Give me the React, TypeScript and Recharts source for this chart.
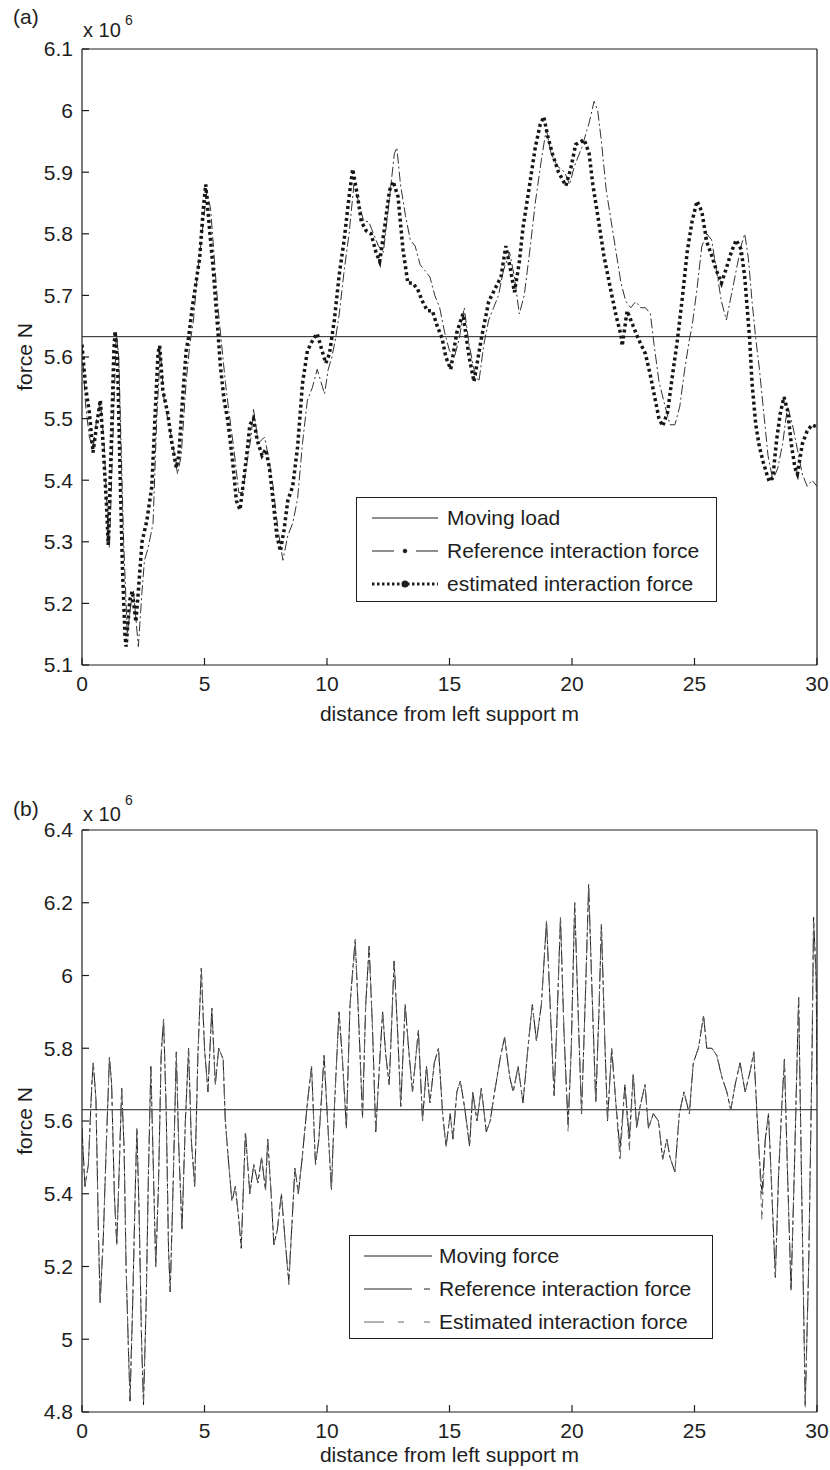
import React from "react";
import { LineChart, Line, XAxis, YAxis, Legend } from "recharts";

// values are force in 10^6 N against distance from left support (m)

// panel (a)
const distA_load = [0, 30];
const forceA_load = [5.633, 5.633];

const distA_ref = [
  0, 0.15, 0.3, 0.45, 0.6, 0.75, 0.9, 1.05, 1.12, 1.25, 1.4, 1.5, 1.7, 1.85, 2.0, 2.1, 2.3, 2.45, 2.55, 2.7,
  2.9, 3.05, 3.2, 3.35, 3.5, 3.7, 3.9, 4.05, 4.25, 4.4, 4.55, 4.7, 4.9, 5.1, 5.25, 5.4, 5.55, 5.7, 5.85, 6.0,
  6.2, 6.4, 6.55, 6.7, 6.9, 7.0, 7.2, 7.45, 7.6, 7.8, 8.0, 8.2, 8.4, 8.6, 8.8, 9.0, 9.2, 9.4, 9.6, 9.75,
  9.9, 10.05, 10.2, 10.35, 10.5, 10.7, 10.9, 11.1, 11.3, 11.5, 11.7, 11.9, 12.1, 12.3, 12.5, 12.75, 12.85, 13.0, 13.2, 13.4,
  13.6, 13.8, 14.0, 14.2, 14.4, 14.6, 14.8, 15.0, 15.2, 15.4, 15.6, 15.8, 16.0, 16.2, 16.4, 16.6, 16.8, 17.0, 17.2, 17.45,
  17.65, 17.85, 18.05, 18.3, 18.5, 18.75, 18.95, 19.15, 19.4, 19.7, 19.9, 20.1, 20.4, 20.7, 20.9, 21.05, 21.2, 21.4, 21.6, 21.8,
  22.0, 22.2, 22.4, 22.6, 22.8, 23.0, 23.2, 23.35, 23.55, 23.8, 24.0, 24.2, 24.4, 24.6, 24.8, 24.9, 25.1, 25.3, 25.5, 25.7,
  25.9, 26.1, 26.3, 26.5, 26.7, 26.9, 27.05, 27.2, 27.35, 27.5, 27.65, 27.85, 28.0, 28.2, 28.4, 28.6, 28.8, 29.0, 29.2, 29.4,
  29.6, 29.8, 30.0,
];
const forceA_ref = [
  5.62, 5.52, 5.47, 5.45, 5.5, 5.53, 5.46, 5.33, 5.29, 5.45, 5.64, 5.6, 5.3, 5.15, 5.2, 5.22, 5.13, 5.22, 5.27, 5.29,
  5.33, 5.5, 5.61, 5.53, 5.5, 5.46, 5.41, 5.44, 5.56, 5.62, 5.66, 5.73, 5.8, 5.87, 5.84, 5.76, 5.68, 5.62, 5.56, 5.51,
  5.45, 5.38, 5.38, 5.42, 5.47, 5.515, 5.46, 5.47, 5.44, 5.39, 5.32, 5.27, 5.31, 5.33, 5.37, 5.46, 5.53, 5.55, 5.58, 5.56,
  5.54, 5.58, 5.6, 5.63, 5.67, 5.74, 5.8, 5.88, 5.85, 5.82, 5.82, 5.8, 5.78, 5.77, 5.84, 5.93, 5.94, 5.88, 5.83, 5.79,
  5.78, 5.75, 5.74, 5.73, 5.7, 5.68, 5.64, 5.61, 5.6, 5.63, 5.68, 5.62, 5.58, 5.56, 5.62, 5.66, 5.68, 5.7, 5.74, 5.77,
  5.73, 5.67, 5.7, 5.78, 5.85, 5.92, 5.97, 5.93, 5.91, 5.9, 5.88, 5.91, 5.94, 5.98, 6.015, 6.0, 5.95, 5.87, 5.82, 5.77,
  5.72, 5.69, 5.68, 5.69, 5.68, 5.68, 5.67, 5.62, 5.56, 5.52, 5.49, 5.49, 5.52, 5.58, 5.63, 5.65, 5.71, 5.78, 5.8, 5.79,
  5.74, 5.69, 5.66, 5.7, 5.74, 5.78, 5.8, 5.76, 5.69, 5.63, 5.58, 5.5, 5.44, 5.4, 5.42, 5.46, 5.52, 5.49, 5.45, 5.41,
  5.39, 5.4, 5.39,
];

const distA_est = [
  0, 0.15, 0.3, 0.45, 0.6, 0.75, 0.85, 1.0, 1.07, 1.2, 1.3, 1.35, 1.45, 1.55, 1.65, 1.75, 1.8, 1.95, 2.05, 2.2,
  2.3, 2.45, 2.65, 2.85, 3.0, 3.1, 3.17, 3.3, 3.5, 3.65, 3.85, 3.95, 4.1, 4.25, 4.35, 4.5, 4.65, 4.8, 4.95, 5.05,
  5.2, 5.35, 5.55, 5.65, 5.8, 5.95, 6.15, 6.3, 6.45, 6.6, 6.75, 6.85, 7.0, 7.15, 7.35, 7.5, 7.65, 7.8, 7.95, 8.1,
  8.25, 8.4, 8.6, 8.8, 9.0, 9.2, 9.45, 9.6, 9.8, 9.95, 10.1, 10.3, 10.5, 10.7, 10.9, 11.05, 11.25, 11.4, 11.6, 11.8,
  12.0, 12.15, 12.35, 12.55, 12.7, 12.9, 13.1, 13.3, 13.5, 13.7, 13.9, 14.1, 14.3, 14.5, 14.7, 14.85, 15.05, 15.3, 15.55, 15.8,
  16.0, 16.3, 16.6, 16.85, 17.1, 17.3, 17.5, 17.65, 17.85, 18.0, 18.25, 18.5, 18.7, 18.85, 19.0, 19.2, 19.45, 19.75, 19.95, 20.15,
  20.5, 20.7, 20.85, 21.05, 21.3, 21.6, 21.8, 22.0, 22.05, 22.25, 22.5, 22.7, 23.0, 23.2, 23.4, 23.55, 23.7, 23.9, 24.1, 24.3,
  24.5, 24.7, 24.9, 25.1, 25.3, 25.5, 25.7, 25.9, 26.1, 26.3, 26.5, 26.7, 26.9, 27.05, 27.15, 27.25, 27.35, 27.5, 27.65, 27.8,
  27.95, 28.05, 28.2, 28.35, 28.5, 28.65, 28.8, 28.95, 29.1, 29.2, 29.4, 29.6, 29.8, 30.0,
];
const forceA_est = [
  5.62, 5.55, 5.51, 5.445, 5.49, 5.53, 5.465, 5.36, 5.295, 5.465, 5.61, 5.642, 5.595, 5.42, 5.26, 5.15, 5.13, 5.205, 5.22, 5.17,
  5.22, 5.3, 5.335, 5.39, 5.52, 5.605, 5.618, 5.546, 5.508, 5.465, 5.42, 5.44, 5.53, 5.61, 5.632, 5.68, 5.72, 5.76, 5.84, 5.88,
  5.81, 5.745, 5.64, 5.584, 5.53, 5.497, 5.43, 5.367, 5.352, 5.4, 5.45, 5.49, 5.5, 5.465, 5.44, 5.45, 5.42, 5.367, 5.31, 5.285,
  5.32, 5.367, 5.39, 5.454, 5.557, 5.61, 5.63, 5.638, 5.61, 5.59, 5.605, 5.66, 5.734, 5.79, 5.86, 5.905, 5.86, 5.82, 5.805, 5.8,
  5.77, 5.755, 5.81, 5.87, 5.885, 5.86, 5.775, 5.72, 5.72, 5.71, 5.69, 5.675, 5.675, 5.65, 5.63, 5.6, 5.58, 5.64, 5.67, 5.6,
  5.56, 5.63, 5.69, 5.71, 5.73, 5.78, 5.74, 5.705, 5.754, 5.81, 5.874, 5.94, 5.977, 5.99, 5.96, 5.93, 5.9, 5.878, 5.906, 5.945,
  5.953, 5.93, 5.88, 5.83, 5.765, 5.705, 5.667, 5.635, 5.618, 5.675, 5.65, 5.63, 5.605, 5.57, 5.53, 5.5, 5.488, 5.51, 5.57, 5.627,
  5.695, 5.77, 5.82, 5.853, 5.836, 5.787, 5.765, 5.74, 5.72, 5.744, 5.77, 5.79, 5.775, 5.73, 5.68, 5.63, 5.557, 5.49, 5.454, 5.43,
  5.41, 5.398, 5.405, 5.465, 5.508, 5.535, 5.513, 5.459, 5.42, 5.41, 5.459, 5.48, 5.49, 5.486,
];

// panel (b)
const distB_load = [0, 30];
const forceB_load = [5.631, 5.631];

const distB_ref = [
  0, 0.12, 0.26, 0.4, 0.46, 0.57, 0.67, 0.74, 0.87, 1.0, 1.12, 1.21, 1.32, 1.42, 1.51, 1.62, 1.72, 1.8, 1.9, 1.96,
  2.07, 2.17, 2.24, 2.33, 2.43, 2.51, 2.62, 2.71, 2.81, 2.92, 3.01, 3.12, 3.23, 3.33, 3.44, 3.53, 3.6, 3.71, 3.85, 3.94,
  4.08, 4.22, 4.35, 4.46, 4.6, 4.73, 4.87, 5.0, 5.14, 5.3, 5.44, 5.58, 5.76, 5.85, 5.99, 6.12, 6.26, 6.4, 6.5, 6.67,
  6.85, 7.01, 7.18, 7.33, 7.49, 7.58, 7.72, 7.83, 7.97, 8.14, 8.28, 8.44, 8.58, 8.69, 8.83, 8.99, 9.2, 9.37, 9.53, 9.67,
  9.88, 10.0, 10.18, 10.31, 10.49, 10.63, 10.79, 10.94, 11.15, 11.28, 11.45, 11.58, 11.72, 11.86, 11.99, 12.13, 12.27, 12.4, 12.54, 12.74,
  12.88, 13.01, 13.19, 13.33, 13.49, 13.73, 13.9, 14.06, 14.2, 14.38, 14.55, 14.72, 14.86, 15.03, 15.14, 15.3, 15.44, 15.61, 15.82, 15.95,
  16.12, 16.3, 16.5, 16.66, 16.84, 17.09, 17.25, 17.46, 17.6, 17.8, 18.0, 18.2, 18.38, 18.55, 18.75, 18.96, 19.12, 19.27, 19.4, 19.53,
  19.67, 19.84, 19.97, 20.11, 20.25, 20.39, 20.55, 20.68, 20.82, 20.97, 21.1, 21.2, 21.34, 21.45, 21.62, 21.79, 21.96, 22.16, 22.34, 22.5,
  22.64, 22.78, 22.98, 23.12, 23.32, 23.53, 23.7, 23.87, 24.0, 24.2, 24.38, 24.57, 24.79, 24.95, 25.16, 25.37, 25.5, 25.71, 25.91, 26.12,
  26.32, 26.48, 26.66, 26.86, 27.07, 27.28, 27.42, 27.55, 27.65, 27.75, 27.89, 28.02, 28.16, 28.3, 28.43, 28.57, 28.67, 28.8, 28.94, 29.07,
  29.25, 29.39, 29.52, 29.66, 29.8, 29.86, 29.97, 30.0,
];
const forceB_ref = [
  5.58, 5.42, 5.48, 5.7, 5.76, 5.66, 5.3, 5.1, 5.28, 5.55, 5.775, 5.7, 5.4, 5.26, 5.45, 5.69, 5.52, 5.2, 4.96, 4.83,
  5.1, 5.4, 5.58, 5.35, 5.0, 4.82, 5.1, 5.45, 5.75, 5.45, 5.2, 5.42, 5.78, 5.88, 5.62, 5.25, 5.13, 5.4, 5.79, 5.55,
  5.3, 5.6, 5.8, 5.55, 5.42, 5.78, 6.02, 5.8, 5.68, 5.91, 5.7, 5.8, 5.77, 5.6, 5.48, 5.38, 5.42, 5.33, 5.25, 5.57,
  5.4, 5.48, 5.43, 5.5, 5.41, 5.55, 5.4, 5.26, 5.3, 5.4, 5.28, 5.16, 5.33, 5.47, 5.4, 5.5, 5.65, 5.75, 5.48, 5.55,
  5.78, 5.63, 5.41, 5.65, 5.9, 5.77, 5.58, 5.92, 6.1, 5.9, 5.61, 5.92, 6.08, 5.85, 5.57, 5.74, 5.9, 5.78, 5.7, 6.04,
  5.85, 5.64, 5.92, 5.8, 5.68, 5.85, 5.6, 5.75, 5.65, 5.76, 5.8, 5.62, 5.53, 5.62, 5.55, 5.68, 5.71, 5.64, 5.53, 5.68,
  5.6, 5.69, 5.57, 5.6, 5.68, 5.78, 5.83, 5.72, 5.68, 5.75, 5.65, 5.8, 5.92, 5.82, 5.92, 6.15, 5.9, 5.67, 5.9, 6.16,
  5.85, 5.59, 5.8, 6.2, 5.9, 5.62, 5.95, 6.25, 5.95, 5.65, 5.9, 6.14, 5.82, 5.6, 5.8, 5.65, 5.52, 5.7, 5.55, 5.73,
  5.58, 5.64, 5.7, 5.58, 5.62, 5.6, 5.495, 5.55, 5.5, 5.46, 5.62, 5.68, 5.62, 5.76, 5.8, 5.89, 5.8, 5.8, 5.78, 5.72,
  5.68, 5.63, 5.7, 5.76, 5.68, 5.74, 5.79, 5.62, 5.5, 5.4, 5.55, 5.62, 5.4, 5.17, 5.45, 5.65, 5.77, 5.45, 5.135, 5.45,
  5.94, 5.35, 4.82, 5.2, 5.8, 6.16, 5.98, 5.7,
];

const distB_est = distB_ref;
const forceB_est = [
  5.58, 5.42, 5.48, 5.7, 5.76, 5.66, 5.28, 5.1, 5.28, 5.55, 5.775, 5.7, 5.4, 5.26, 5.45, 5.69, 5.52, 5.2, 4.96, 4.84,
  5.1, 5.4, 5.58, 5.35, 5.0, 4.83, 5.1, 5.45, 5.75, 5.45, 5.2, 5.42, 5.78, 5.88, 5.62, 5.25, 5.13, 5.4, 5.79, 5.55,
  5.3, 5.6, 5.8, 5.55, 5.42, 5.78, 6.02, 5.8, 5.68, 5.91, 5.7, 5.8, 5.77, 5.6, 5.48, 5.38, 5.42, 5.33, 5.26, 5.57,
  5.4, 5.48, 5.43, 5.5, 5.41, 5.55, 5.4, 5.26, 5.3, 5.4, 5.28, 5.15, 5.33, 5.47, 5.4, 5.5, 5.65, 5.75, 5.48, 5.55,
  5.78, 5.63, 5.41, 5.65, 5.9, 5.77, 5.58, 5.92, 6.09, 5.9, 5.61, 5.92, 6.08, 5.85, 5.57, 5.74, 5.9, 5.78, 5.7, 6.04,
  5.85, 5.64, 5.92, 5.8, 5.68, 5.85, 5.6, 5.75, 5.65, 5.76, 5.8, 5.62, 5.53, 5.62, 5.55, 5.68, 5.71, 5.64, 5.54, 5.68,
  5.6, 5.69, 5.57, 5.6, 5.68, 5.78, 5.83, 5.72, 5.68, 5.75, 5.65, 5.8, 5.92, 5.82, 5.92, 6.15, 5.9, 5.67, 5.9, 6.16,
  5.85, 5.57, 5.8, 6.2, 5.9, 5.62, 5.95, 6.24, 5.95, 5.65, 5.9, 6.14, 5.82, 5.6, 5.8, 5.65, 5.49, 5.7, 5.52, 5.73,
  5.58, 5.64, 5.7, 5.58, 5.62, 5.6, 5.495, 5.55, 5.5, 5.46, 5.62, 5.68, 5.62, 5.76, 5.8, 5.89, 5.8, 5.8, 5.78, 5.72,
  5.68, 5.63, 5.7, 5.76, 5.68, 5.74, 5.79, 5.62, 5.5, 5.33, 5.55, 5.62, 5.4, 5.17, 5.45, 5.65, 5.77, 5.45, 5.135, 5.45,
  5.94, 5.35, 4.81, 5.2, 5.8, 6.15, 5.98, 5.7,
];

const xTicks = [0, 5, 10, 15, 20, 25, 30];
const yTicksA = [5.1, 5.2, 5.3, 5.4, 5.5, 5.6, 5.7, 5.8, 5.9, 6, 6.1];
const yTicksB = [4.8, 5, 5.2, 5.4, 5.6, 5.8, 6, 6.2, 6.4];

const toPoints = (xs: number[], ys: number[]) => xs.map((x, i) => ({ x, y: ys[i] }));

const INK = "#1e1e1e";
const FONT = 21;

const XTitle = ({ viewBox, gap }: any) => (
  <text x={viewBox.x + viewBox.width / 2} y={viewBox.y + gap} textAnchor="middle" fontSize={FONT} fill={INK}>
    distance from left support m
  </text>
);

const YTitle = ({ viewBox }: any) => {
  const cx = viewBox.x + 12;
  const cy = viewBox.y + viewBox.height / 2;
  return (
    <text x={cx} y={cy} transform={`rotate(-90 ${cx} ${cy})`} textAnchor="middle" dominantBaseline="central" fontSize={FONT} fill={INK}>
      force N
    </text>
  );
};

// legend samples, drawn in a 68x12 box
const sampleA: Record<string, React.ReactNode> = {
  load: <line x1={0} x2={66} y1={6} y2={6} stroke={INK} strokeWidth={1} />,
  ref: (
    <g stroke={INK} strokeWidth={1}>
      <line x1={0} x2={22} y1={6} y2={6} />
      <circle cx={33} cy={6} r={1.8} fill={INK} />
      <line x1={44} x2={66} y1={6} y2={6} />
    </g>
  ),
  est: (
    <g>
      <line x1={0} x2={66} y1={6} y2={6} stroke={INK} strokeWidth={3} strokeDasharray="2.5 2.5" />
      <circle cx={33} cy={6} r={3.5} fill={INK} />
    </g>
  ),
};
const sampleB: Record<string, React.ReactNode> = {
  load: <line x1={0} x2={68} y1={6} y2={6} stroke={INK} strokeWidth={1} />,
  ref: (
    <g stroke="#222" strokeWidth={1}>
      <line x1={0} x2={48} y1={6} y2={6} />
      <line x1={60} x2={66} y1={6} y2={6} />
    </g>
  ),
  est: (
    <g stroke="#666" strokeWidth={1}>
      <line x1={0} x2={20} y1={6} y2={6} />
      <line x1={34} x2={40} y1={6} y2={6} />
      <line x1={60} x2={66} y1={6} y2={6} />
    </g>
  ),
};

const LegendBox = ({ series, samples, width, height, sampleLeft, textLeft }: any) => (
  <div
    style={{
      width,
      height,
      boxSizing: "border-box",
      border: `1px solid ${INK}`,
      background: "#fff",
      paddingTop: 4,
    }}
  >
    {series.map((s: any) => (
      <div key={s.key} style={{ position: "relative", height: 33 }}>
        <svg width={68} height={12} style={{ position: "absolute", left: sampleLeft, top: 10 }}>
          {samples[s.key]}
        </svg>
        <span style={{ position: "absolute", left: textLeft, top: 3, fontSize: FONT, color: INK, whiteSpace: "nowrap", lineHeight: "26px" }}>
          {s.name}
        </span>
      </div>
    ))}
  </div>
);

const Panel = ({ height, marginTop, marginBottom, yTicks, domain, series, legend, titleGap }: any) => (
  <LineChart width={830} height={height} margin={{ top: marginTop, right: 13, bottom: marginBottom, left: 12 }}>
    <XAxis
      type="number"
      dataKey="x"
      domain={[0, 30]}
      allowDataOverflow
      ticks={xTicks}
      interval={0}
      height={30}
      stroke={INK}
      strokeWidth={1.2}
      tickSize={-7}
      tickMargin={18}
      tick={{ fill: INK, fontSize: FONT }}
      label={<XTitle gap={titleGap} />}
    />
    <XAxis
      xAxisId="top"
      orientation="top"
      mirror
      type="number"
      dataKey="x"
      domain={[0, 30]}
      allowDataOverflow
      ticks={xTicks}
      interval={0}
      stroke={INK}
      strokeWidth={1.2}
      tickSize={7}
      tick={false}
    />
    <YAxis
      type="number"
      domain={domain}
      allowDataOverflow
      ticks={yTicks}
      interval={0}
      width={70}
      stroke={INK}
      strokeWidth={1.2}
      tickSize={-7}
      tickMargin={16}
      tick={{ fill: INK, fontSize: FONT }}
      tickFormatter={(v: number) => String(v)}
      label={<YTitle />}
    />
    <YAxis
      yAxisId="right"
      orientation="right"
      mirror
      type="number"
      domain={domain}
      allowDataOverflow
      ticks={yTicks}
      interval={0}
      stroke={INK}
      strokeWidth={1.2}
      tickSize={7}
      tick={false}
    />
    {series.map((s: any) => (
      <Line
        key={s.key}
        name={s.name}
        data={s.data}
        dataKey="y"
        type="linear"
        stroke={s.stroke}
        strokeWidth={s.width}
        strokeDasharray={s.dash}
        dot={false}
        activeDot={false}
        isAnimationActive={false}
      />
    ))}
    <Legend
      layout="vertical"
      align="center"
      verticalAlign="middle"
      wrapperStyle={legend.style}
      content={() => (
        <LegendBox
          series={series}
          samples={legend.samples}
          width={legend.width}
          height={legend.height}
          sampleLeft={legend.sampleLeft}
          textLeft={legend.textLeft}
        />
      )}
    />
  </LineChart>
);

const seriesA = [
  { key: "load", name: "Moving load", data: toPoints(distA_load, forceA_load), stroke: INK, width: 1 },
  { key: "ref", name: "Reference interaction force", data: toPoints(distA_ref, forceA_ref), stroke: "#333", width: 1, dash: "10 3 2 3" },
  { key: "est", name: "estimated interaction force", data: toPoints(distA_est, forceA_est), stroke: "#161616", width: 3.5, dash: "3 3" },
];

const seriesB = [
  { key: "load", name: "Moving force", data: toPoints(distB_load, forceB_load), stroke: INK, width: 1 },
  { key: "ref", name: "Reference interaction force", data: toPoints(distB_ref, forceB_ref), stroke: "#1a1a1a", width: 1, dash: "14 3 4 3" },
  { key: "est", name: "Estimated interaction force", data: toPoints(distB_est, forceB_est), stroke: "#666", width: 1, dash: "9 4 3 4" },
];

const Note = ({ tag, top, tagY, mainY, supY }: any) => (
  <svg width={200} height={50} style={{ position: "absolute", left: 0, top }}>
    <text x={13} y={tagY} fontSize={FONT} fill={INK}>{tag}</text>
    <text x={83} y={mainY} fontSize={20} fill={INK}>x 10</text>
    <text x={125} y={supY} fontSize={14} fill={INK}>6</text>
  </svg>
);

export default function App() {
  return (
    <div
      style={{
        position: "absolute",
        left: 0,
        top: 0,
        width: 830,
        height: 1470,
        background: "#fff",
        fontFamily: "'Liberation Sans', Arial, sans-serif",
      }}
    >
      <div style={{ position: "absolute", left: 0, top: 0 }}>
        <Panel
          height={740}
          marginTop={49}
          marginBottom={45}
          yTicks={yTicksA}
          domain={[5.1, 6.1]}
          series={seriesA}
          titleGap={56}
          legend={{
            style: { left: 356, top: 497, width: 361, height: 105 },
            samples: sampleA,
            width: 361,
            height: 105,
            sampleLeft: 15,
            textLeft: 90,
          }}
        />
      </div>
      <div style={{ position: "absolute", left: 0, top: 740 }}>
        <Panel
          height={730}
          marginTop={90}
          marginBottom={28}
          yTicks={yTicksB}
          domain={[4.8, 6.4]}
          series={seriesB}
          titleGap={50}
          legend={{
            style: { left: 349, top: 495, width: 364, height: 104 },
            samples: sampleB,
            width: 364,
            height: 104,
            sampleLeft: 14,
            textLeft: 89,
          }}
        />
      </div>
      <Note tag="(a)" top={0} tagY={24} mainY={37} supY={25} />
      <Note tag="(b)" top={780} tagY={36} mainY={41} supY={25} />
    </div>
  );
}
